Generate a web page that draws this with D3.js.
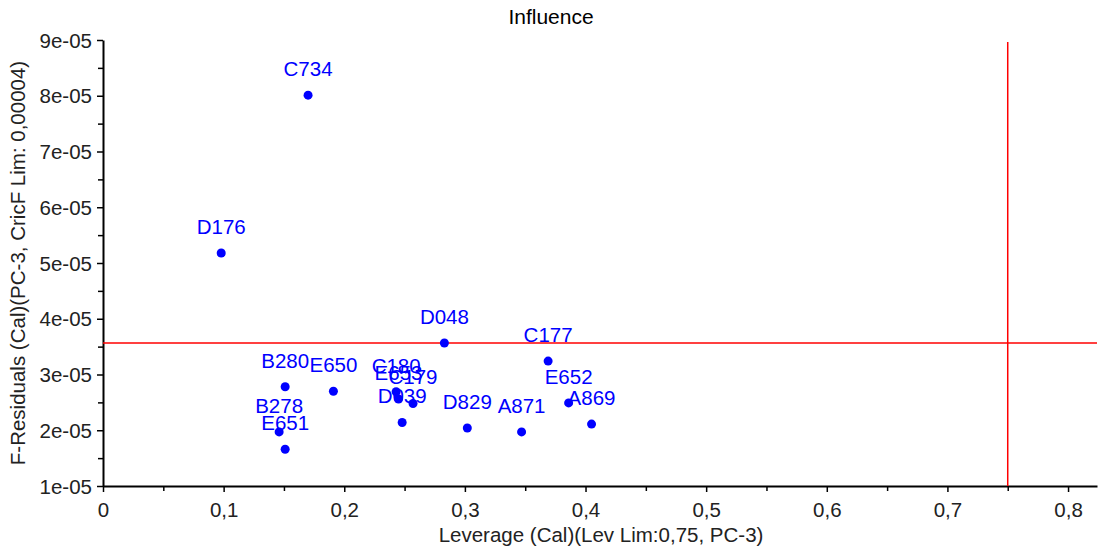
<!DOCTYPE html>
<html>
<head>
<meta charset="utf-8">
<script src="https://cdn.jsdelivr.net/npm/d3@7"></script>
<style>
  body { margin: 0; background: #fff; }
  text { font-family: "Liberation Sans", Arial, sans-serif; }
</style>
</head>
<body>
<script>
const width = 1100, height = 550;

// sample names and their leverage / F-residual values
const names = ['C734', 'D176', 'D048', 'C177', 'B280', 'E650', 'C180', 'E653',
  'C179', 'D039', 'D829', 'A871', 'E652', 'A869', 'B278', 'E651'];
const leverage = [0.170, 0.098, 0.283, 0.369, 0.151, 0.191, 0.243, 0.245,
  0.257, 0.248, 0.302, 0.347, 0.386, 0.405, 0.146, 0.151];
const fResid = [8.01e-5, 5.18e-5, 3.565e-5, 3.24e-5, 2.78e-5, 2.70e-5, 2.69e-5, 2.56e-5,
  2.48e-5, 2.14e-5, 2.04e-5, 1.97e-5, 2.49e-5, 2.11e-5, 1.97e-5, 1.66e-5];

const levLimit = 0.75;
const fLimit = 3.565e-5;

const xTicks = [0, 0.1, 0.2, 0.3, 0.4, 0.5, 0.6, 0.7, 0.8];
const yTicks = [1e-5, 2e-5, 3e-5, 4e-5, 5e-5, 6e-5, 7e-5, 8e-5, 9e-5];

const margin = { left: 103, right: 3, top: 40, bottom: 64 };
const fontSize = '20.5px';

const x = d3.scaleLinear()
  .domain([0, 0.824])
  .range([margin.left, width - margin.right]);
const y = d3.scaleLinear()
  .domain([1e-5, 9e-5])
  .range([height - margin.bottom, margin.top]);

const locale = d3.formatLocale({ decimal: ',', thousands: '.', grouping: [3], currency: ['', ''] });
const xFmt = d => d === 0 ? '0' : locale.format('.1f')(d);
const yFmt = d => {
  const e = Math.round(Math.log10(d) - 0.5);
  const m = Math.round(d / Math.pow(10, e));
  return m + 'e-' + String(-e).padStart(2, '0');
};

const svg = d3.select('body')
  .append('svg')
  .attr('width', width)
  .attr('height', height)
  .style('background-color', '#fff');

svg.append('text')
  .attr('x', 551)
  .attr('y', 24)
  .attr('text-anchor', 'middle')
  .style('font-size', '21px')
  .text('Influence');

// minor ticks
const xMinor = d3.range(0.05, 0.82, 0.1);
const yMinor = d3.range(1.5e-5, 9e-5, 1e-5);

const gx = svg.append('g')
  .attr('transform', 'translate(0,' + y(1e-5) + ')');
gx.append('g')
  .call(d3.axisBottom(x).tickValues(xMinor).tickSize(5).tickFormat(''))
  .call(g => g.select('.domain').remove())
  .selectAll('line').attr('stroke-width', 1.5);
gx.append('g')
  .call(d3.axisBottom(x).tickValues(xTicks).tickSize(6).tickSizeOuter(0).tickFormat(xFmt))
  .call(g => g.select('.domain').attr('stroke-width', 2))
  .call(g => g.selectAll('line').attr('stroke-width', 1.5))
  .call(g => g.selectAll('text').style('font-size', fontSize).attr('dy', '1.05em').attr('fill', '#222'));

const gy = svg.append('g')
  .attr('transform', 'translate(' + x(0) + ',0)');
gy.append('g')
  .call(d3.axisLeft(y).tickValues(yMinor).tickSize(5).tickFormat(''))
  .call(g => g.select('.domain').remove())
  .selectAll('line').attr('stroke-width', 1.5);
gy.append('g')
  .call(d3.axisLeft(y).tickValues(yTicks).tickSize(6).tickSizeOuter(0).tickFormat(yFmt))
  .call(g => g.select('.domain').attr('stroke-width', 2))
  .call(g => g.selectAll('line').attr('stroke-width', 1.5))
  .call(g => g.selectAll('text').style('font-size', fontSize).attr('dy', '0.35em').attr('x', -11).attr('fill', '#222'));

// axis titles
svg.append('text')
  .attr('x', 601)
  .attr('y', 542)
  .attr('text-anchor', 'middle')
  .style('font-size', fontSize)
  .attr('fill', '#222')
  .text('Leverage (Cal)(Lev Lim:0,75, PC-3)');

svg.append('text')
  .attr('transform', 'translate(25,' + ((margin.top + height - margin.bottom) / 2) + ') rotate(-90)')
  .attr('text-anchor', 'middle')
  .style('font-size', fontSize)
  .attr('fill', '#222')
  .text('F-Residuals (Cal)(PC-3, CricF Lim: 0,00004)');

// limit lines
svg.append('line')
  .attr('x1', x(0)).attr('x2', width - margin.right)
  .attr('y1', y(fLimit)).attr('y2', y(fLimit))
  .attr('stroke', '#ff0000').attr('stroke-width', 1.5);
svg.append('line')
  .attr('x1', x(levLimit)).attr('x2', x(levLimit))
  .attr('y1', y(9e-5) + 2).attr('y2', y(1e-5))
  .attr('stroke', '#ff0000').attr('stroke-width', 1.5);

const data = names.map((n, i) => ({ name: n, lev: leverage[i], f: fResid[i] }));

// points
svg.append('g')
  .selectAll('circle')
  .data(data)
  .enter()
  .append('circle')
  .attr('cx', d => x(d.lev))
  .attr('cy', d => y(d.f))
  .attr('r', 4.5)
  .attr('fill', '#0000ff');

// labels
svg.append('g')
  .selectAll('text')
  .data(data)
  .enter()
  .append('text')
  .attr('x', d => x(d.lev))
  .attr('y', d => y(d.f) - 19)
  .attr('text-anchor', 'middle')
  .style('font-size', fontSize)
  .attr('fill', '#0000ff')
  .text(d => d.name);
</script>
</body>
</html>
